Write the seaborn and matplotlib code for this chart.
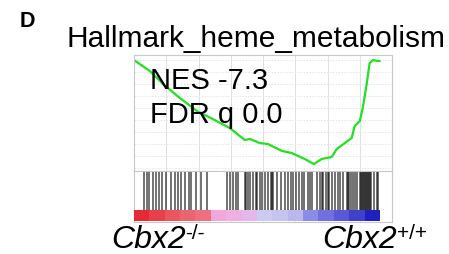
import numpy as np
import matplotlib
matplotlib.use("Agg")
import matplotlib.pyplot as plt
import matplotlib.colors as mcolors
import seaborn as sns

# ── Data ──────────────────────────────────────────────────────────────────────
title = "Hallmark_heme_metabolism"
panel_letter = "D"
nes_label = "NES -7.3"
fdr_label = "FDR q 0.0"
left_group, left_sup = "Cbx2", "-/-"
right_group, right_sup = "Cbx2", "+/+"

# running enrichment score (gene rank in % of list)
es_rank = [0, 6.5, 11.8, 18.7, 25.6, 32.1, 39.0, 45.1, 47.2, 49.2, 51.2, 54.5,
           60.2, 64.2, 69.5, 73.2, 76.4, 80.5, 82.5, 85.8, 88.6, 89.8, 91.9,
           93.1, 94.7, 95.9, 97.2, 99.2, 100]
es_score = [0, -0.092, -0.200, -0.317, -0.425, -0.492, -0.567, -0.667, -0.658,
            -0.675, -0.692, -0.700, -0.758, -0.775, -0.825, -0.867, -0.825,
            -0.808, -0.742, -0.692, -0.650, -0.550, -0.508, -0.400, -0.200,
            -0.025, 0.0, -0.008, -0.008]

# gene set hits
hit_rank = [3.9, 5.1, 6.3, 7.9, 8.9, 10.0, 11.4, 13.2, 15.0, 16.7, 17.9, 19.3,
            20.7, 22.2, 23.4, 25.2, 27.2, 29.7,
            38.0, 39.0, 40.4, 41.7, 42.5, 45.1, 45.7, 46.3, 47.2, 48.3, 49.5,
            50.0, 51.2, 51.9, 53.3, 54.4, 55.6, 56.1, 56.6, 58.0, 60.0, 61.4,
            62.5, 63.8, 64.8, 66.1, 67.1, 68.2, 69.2,
            70.9, 71.5, 72.6, 74.3, 75.9, 76.4, 77.0, 78.3, 78.9, 79.4, 80.4,
            81.7, 83.1, 83.7, 85.1, 86.5, 87.0, 87.5, 88.5, 89.1, 89.8, 90.7,
            91.9, 92.3, 92.7, 93.1, 93.5, 93.9, 94.3, 94.7, 95.1, 95.5, 95.9,
            96.6, 97.6, 98.7, 99.3]

# ranked-list colour bar, equal-width blocks from left to right
cbar_colors = ["#e52a35", "#e8404a", "#ea5560", "#ec6470", "#ee7080",
               "#f0a8dc", "#eeb0e0", "#e4b8ea", "#cccaf2", "#c4c4f0",
               "#b8b8ee", "#8c8ce8", "#7070e0", "#5858d8", "#4040cc", "#2020c0"]

# ── Style ─────────────────────────────────────────────────────────────────────
sns.set_theme(style="white")
plt.rcParams["font.family"] = ["Liberation Sans", "DejaVu Sans"]
plt.rcParams["text.color"] = "black"

W, H = 449, 255
fig = plt.figure(figsize=(W / 100, H / 100), dpi=100)

def fx(px):
    return px / W

def fy(py):
    return 1 - py / H

frame_color = "#c8c8c8"
x_max = 105

# ── Running ES panel ──────────────────────────────────────────────────────────
ax_es = fig.add_axes([fx(134), fy(172), fx(392) - fx(134), fy(56) - fy(172)])
sns.lineplot(x=es_rank, y=es_score, ax=ax_es, color="#22e022", linewidth=1.6)
ax_es.set_xlim(0, x_max)
ax_es.set_ylim(-0.925, 0.042)
ax_es.set_xticks(np.arange(0, x_max + 0.1, x_max / 8))
ax_es.set_yticks(np.arange(0, -0.95, -0.1))
ax_es.tick_params(left=False, bottom=False, labelleft=False, labelbottom=False)
ax_es.grid(axis="x", color="#dedede", linewidth=0.7)
ax_es.grid(axis="y", color="#e4e4e4", linewidth=0.7, linestyle=(0, (1.5, 1.5)))
ax_es.set_xlabel("")
ax_es.set_ylabel("")
for s in ax_es.spines.values():
    s.set_color(frame_color)
    s.set_linewidth(0.8)

# ── Barcode + colour bar ──────────────────────────────────────────────────────
ax_bar = fig.add_axes([fx(134), fy(223), fx(392) - fx(134), fy(172) - fy(223)])
ax_bar.set_xticks(np.arange(0, x_max + 0.1, x_max / 8))
ax_bar.set_yticks([])
ax_bar.tick_params(left=False, bottom=False, labelleft=False, labelbottom=False)
ax_bar.grid(axis="x", color="#e6e6e6", linewidth=0.7)
bar_bottom = 0.235
ax_bar.vlines(hit_rank, bar_bottom, 1, color="black", alpha=0.62, linewidth=1.25)
rgb = np.array([[mcolors.to_rgb(c) for c in cbar_colors]])
ax_bar.imshow(rgb, extent=(0, 100, 0.02, bar_bottom), aspect="auto",
              interpolation="nearest", zorder=3)
ax_bar.set_xlim(0, x_max)
ax_bar.set_ylim(0, 1)
for s in ax_bar.spines.values():
    s.set_color(frame_color)
    s.set_linewidth(0.8)

# ── Texts ─────────────────────────────────────────────────────────────────────
fig.text(fx(20), fy(27), panel_letter, fontsize=15.5, fontweight="bold",
         ha="left", va="baseline")
fig.text(fx(256), fy(47), title, fontsize=21.5, ha="center", va="baseline")
fig.text(fx(150), fy(89), nes_label, fontsize=21, ha="left", va="baseline")
fig.text(fx(150), fy(123), fdr_label, fontsize=21, ha="left", va="baseline")

for x0, main, sup in [(111, left_group, left_sup), (322, right_group, right_sup)]:
    t = fig.text(fx(x0), fy(248), main, fontsize=23, style="italic",
                 ha="left", va="baseline")
    ax_es.annotate(sup, xy=(1.0, 1.02), xycoords=t, ha="left", va="top",
                   fontsize=15, annotation_clip=False)

fig.savefig("out.png", dpi=100)
